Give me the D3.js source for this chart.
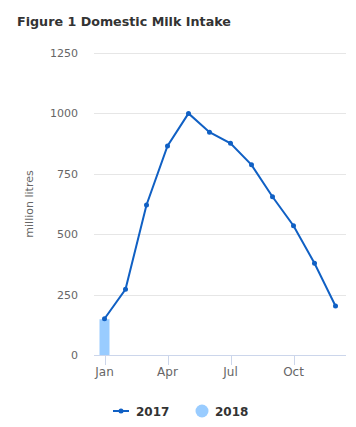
<!DOCTYPE html>
<html>
<head>
<meta charset="utf-8">
<script src="https://cdn.jsdelivr.net/npm/d3@7"></script>
<style>
  body { margin: 0; background: #fff; }
  svg { display: block; font-family: "DejaVu Sans", sans-serif; }
</style>
</head>
<body>
<figure style="margin:0"></figure>
<script>
const months = ["Jan", "Feb", "Mar", "Apr", "May", "Jun", "Jul", "Aug", "Sep", "Oct", "Nov", "Dec"];
const tickMonths = ["Jan", "Apr", "Jul", "Oct"];
const values2017 = [150, 272, 621, 865, 1000, 922, 876, 787, 655, 535, 380, 203];
const values2018 = [148];
const yTicks = [0, 250, 500, 750, 1000, 1250];

const lineColor = "#1060c4";
const barColor = "#99ccff";

const draw = () => {
  const width = 356;
  const height = 427;
  const margin = { top: 53, right: 10, bottom: 72, left: 94 };

  const svg = d3.select("figure").append("svg")
    .attr("width", width).attr("height", height);

  const x = d3.scaleBand()
    .domain(months)
    .range([margin.left, width - margin.right]);
  const y = d3.scaleLinear()
    .domain([0, 1250])
    .range([height - margin.bottom, margin.top]);

  svg.append("text")
    .attr("x", 17).attr("y", 26)
    .attr("font-size", 12.7).attr("font-weight", "bold")
    .attr("fill", "#333")
    .text("Figure 1 Domestic Milk Intake");

  // grid
  svg.append("g")
    .selectAll("line")
    .data(yTicks.filter((d) => d > 0))
    .join("line")
    .attr("x1", margin.left).attr("x2", width - margin.right)
    .attr("y1", (d) => Math.round(y(d)) + 0.5)
    .attr("y2", (d) => Math.round(y(d)) + 0.5)
    .attr("stroke", "#e6e6e6");

  svg.append("g")
    .selectAll("text")
    .data(yTicks)
    .join("text")
    .attr("x", 78)
    .attr("y", (d) => y(d) + 4)
    .attr("text-anchor", "end")
    .attr("font-size", 11)
    .attr("fill", "#666")
    .text((d) => d);

  svg.append("text")
    .attr("transform", `translate(33, ${(y(0) + y(1250)) / 2}) rotate(-90)`)
    .attr("text-anchor", "middle")
    .attr("font-size", 11)
    .attr("fill", "#666")
    .text("million litres");

  // x axis
  const xAxis = svg.append("g");
  xAxis.append("line")
    .attr("x1", margin.left).attr("x2", width - margin.right)
    .attr("y1", y(0) + 0.5).attr("y2", y(0) + 0.5)
    .attr("stroke", "#ccd6eb");
  const cx = (m) => x(m) + x.bandwidth() / 2;
  xAxis.selectAll("line.tick")
    .data(tickMonths)
    .join("line")
    .attr("class", "tick")
    .attr("x1", (d) => Math.round(cx(d)) + 0.5)
    .attr("x2", (d) => Math.round(cx(d)) + 0.5)
    .attr("y1", y(0)).attr("y2", y(0) + 10)
    .attr("stroke", "#ccd6eb");
  xAxis.selectAll("text")
    .data(tickMonths)
    .join("text")
    .attr("x", cx)
    .attr("y", y(0) + 21)
    .attr("text-anchor", "middle")
    .attr("font-size", 12)
    .attr("fill", "#666")
    .text((d) => d);

  // 2018 bars
  const barW = 10;
  svg.append("g")
    .selectAll("rect")
    .data(values2018)
    .join("rect")
    .attr("x", (d, i) => cx(months[i]) - barW / 2)
    .attr("y", (d) => y(d))
    .attr("width", barW)
    .attr("height", (d) => y(0) - y(d))
    .attr("fill", barColor);

  // 2017 line
  const line = d3.line()
    .x((d, i) => cx(months[i]))
    .y((d) => y(d));
  svg.append("path")
    .datum(values2017)
    .attr("d", line)
    .attr("fill", "none")
    .attr("stroke", lineColor)
    .attr("stroke-width", 2);
  svg.append("g")
    .selectAll("circle")
    .data(values2017)
    .join("circle")
    .attr("cx", (d, i) => cx(months[i]))
    .attr("cy", (d) => y(d))
    .attr("r", 2.5)
    .attr("fill", lineColor);

  // legend
  const legend = svg.append("g").attr("transform", "translate(0, 411)");
  legend.append("line")
    .attr("x1", 113).attr("x2", 129)
    .attr("y1", 0).attr("y2", 0)
    .attr("stroke", lineColor).attr("stroke-width", 2);
  legend.append("circle")
    .attr("cx", 121).attr("cy", 0).attr("r", 2.5)
    .attr("fill", lineColor);
  legend.append("text")
    .attr("x", 136).attr("y", 4.5)
    .attr("font-size", 12).attr("font-weight", "bold")
    .attr("fill", "#333")
    .text("2017");
  legend.append("circle")
    .attr("cx", 202).attr("cy", 0).attr("r", 6.5)
    .attr("fill", barColor);
  legend.append("text")
    .attr("x", 215).attr("y", 4.5)
    .attr("font-size", 12).attr("font-weight", "bold")
    .attr("fill", "#333")
    .text("2018");
};

draw();
</script>
</body>
</html>
